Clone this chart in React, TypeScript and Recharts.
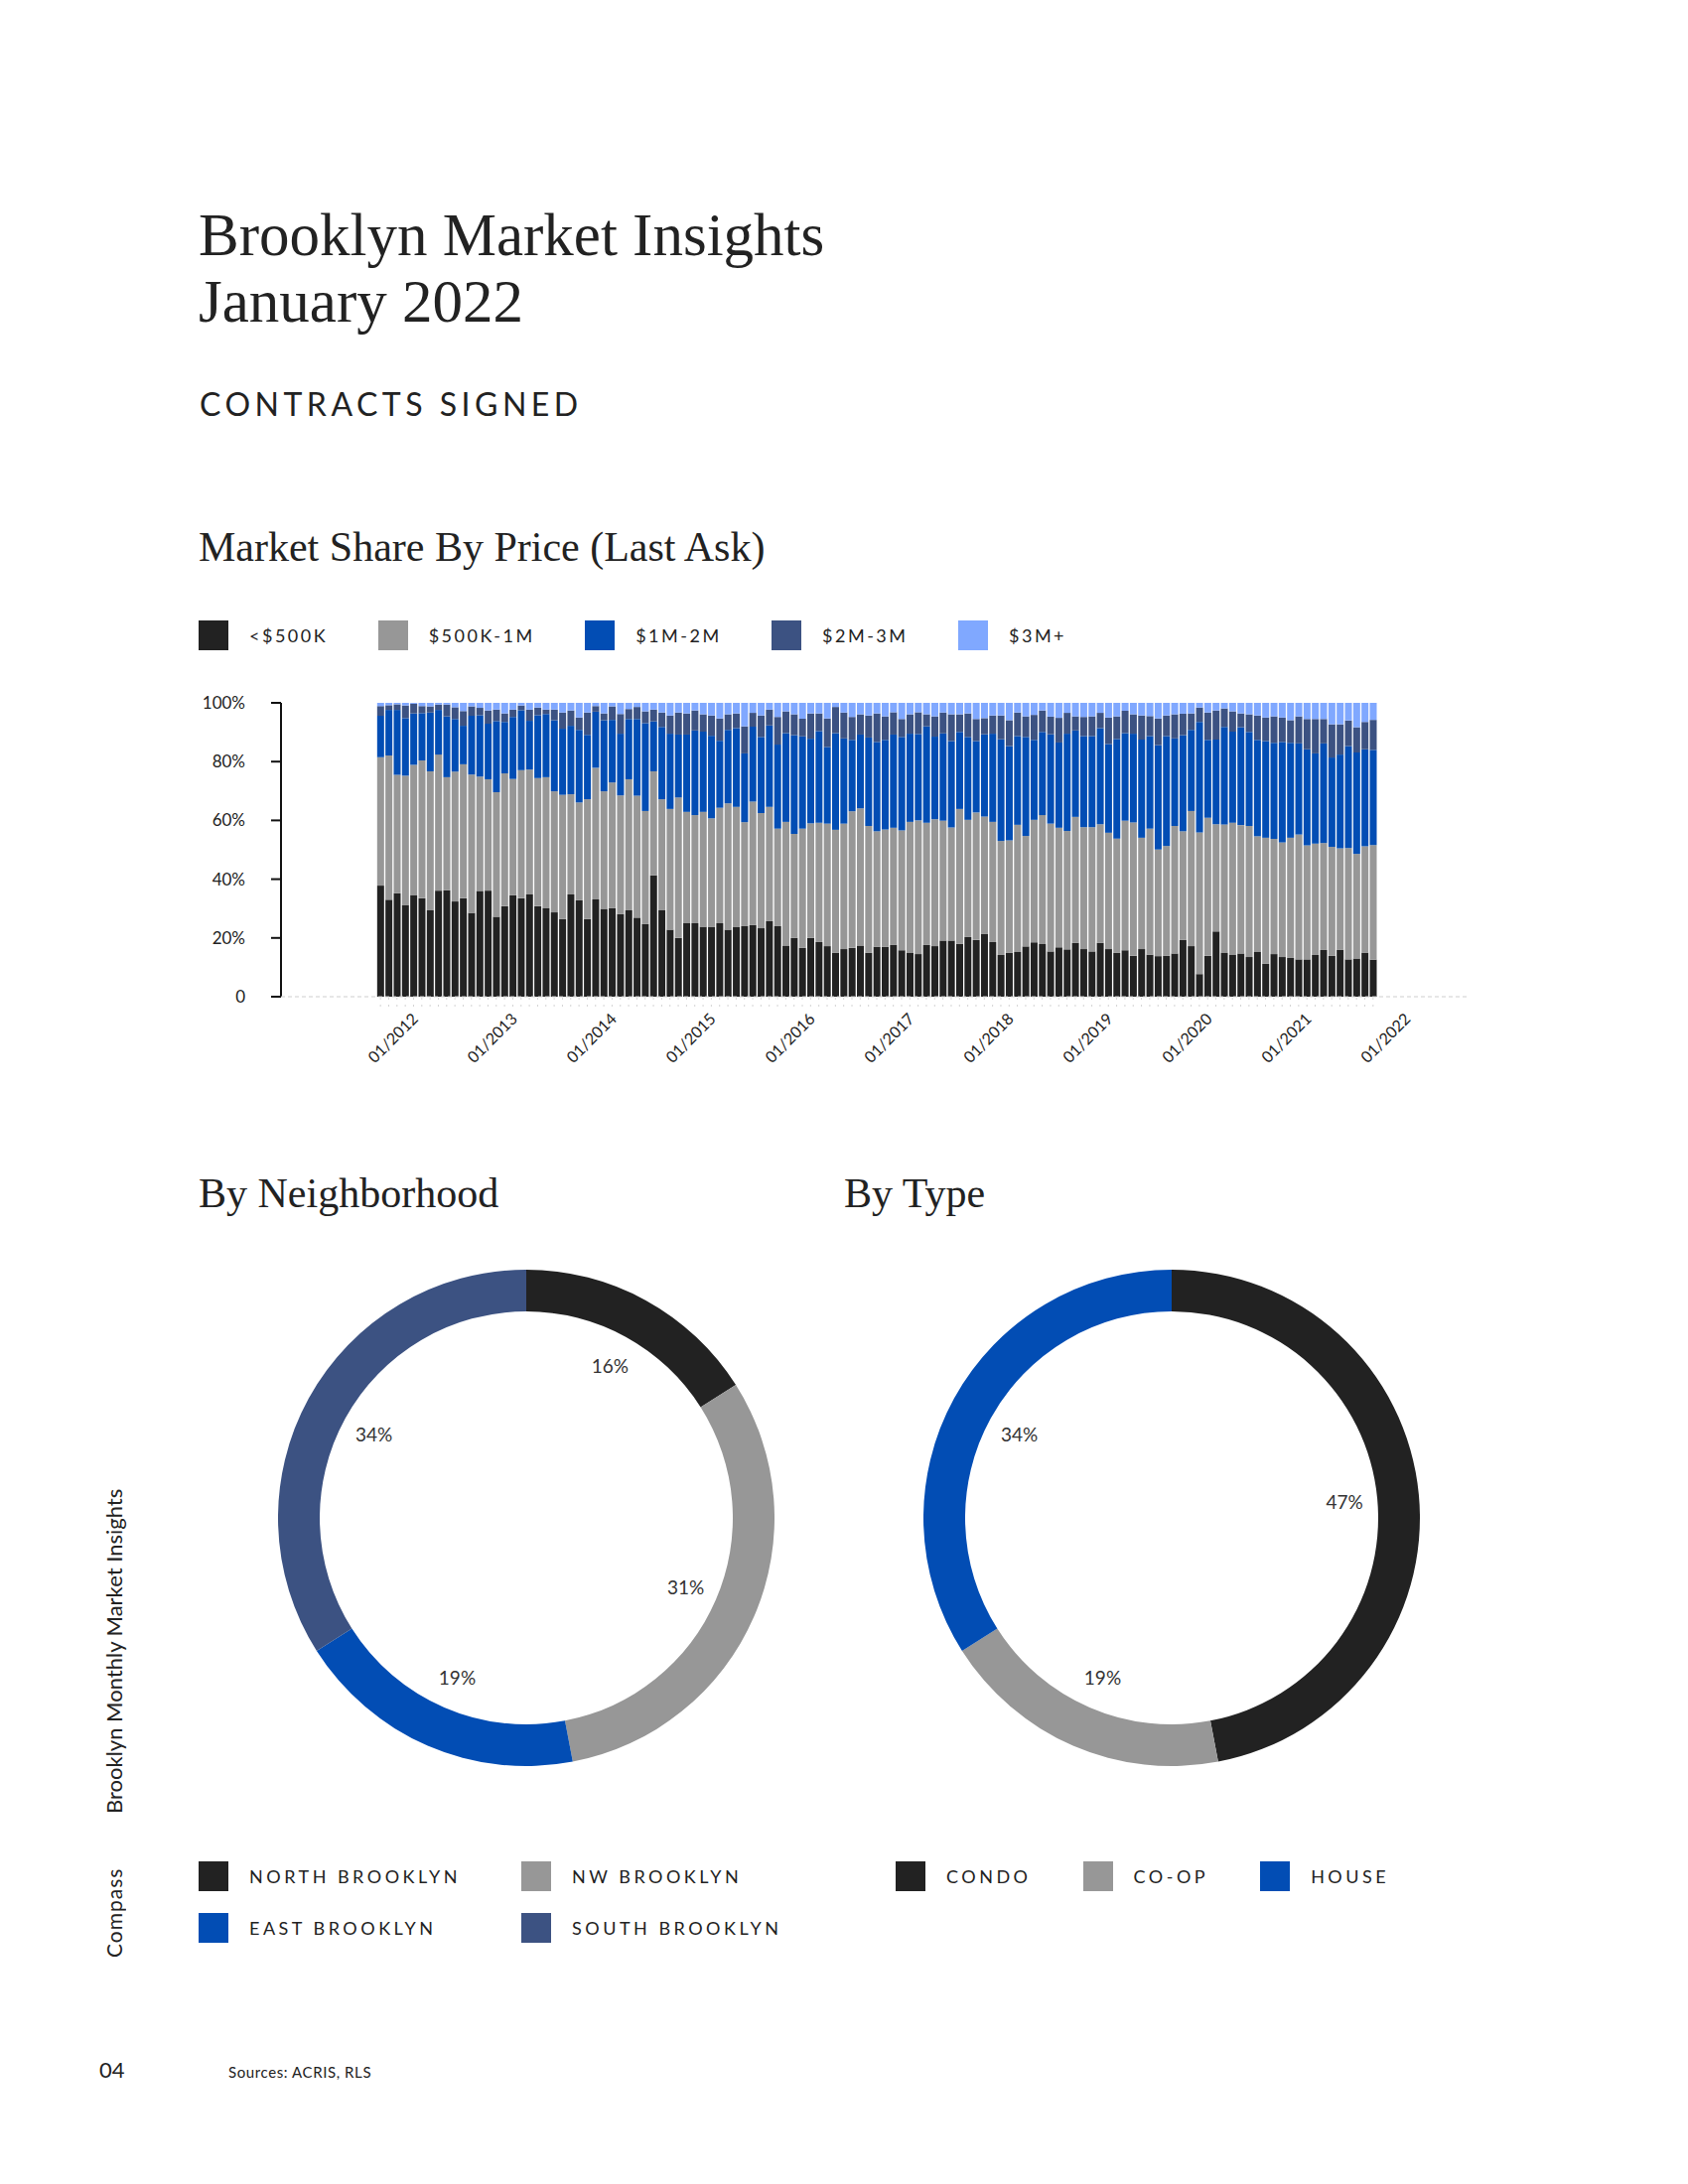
import { Bar, BarChart, Cell, Pie, PieChart, XAxis, YAxis } from "recharts";

// months 01/2012 .. 01/2022
const MONTHS: string[] = [];
for (let y = 2012; y <= 2022; y++) {
  for (let m = 1; m <= 12; m++) {
    if (y === 2022 && m > 1) break;
    MONTHS.push(`${String(m).padStart(2, "0")}/${y}`);
  }
}

// market share by last ask price, % of contracts signed each month
const UNDER_500K = [
  37.8, 33.0, 35.2, 31.1, 34.5, 33.5, 29.4, 36.1, 36.2, 32.4,
  33.5, 28.5, 36.0, 36.1, 27.2, 30.8, 34.5, 33.5, 34.8, 30.8,
  30.1, 28.7, 26.4, 34.8, 32.8, 26.4, 33.1, 29.9, 30.1, 28.1,
  29.4, 26.9, 24.7, 41.3, 29.4, 22.8, 20.0, 25.0, 25.0, 23.8,
  23.8, 25.0, 22.8, 23.8, 24.0, 24.4, 23.3, 25.7, 24.0, 17.4,
  20.0, 16.6, 20.0, 18.6, 17.2, 14.9, 16.2, 16.6, 17.4, 14.9,
  17.0, 17.0, 17.6, 15.8, 14.9, 14.5, 17.6, 17.2, 19.1, 19.1,
  18.0, 20.3, 19.3, 21.3, 18.6, 14.2, 14.9, 15.2, 17.1, 18.5,
  17.9, 15.4, 16.8, 16.1, 18.3, 16.2, 15.4, 18.3, 16.2, 14.9,
  15.8, 13.9, 16.2, 14.3, 13.8, 13.9, 14.7, 19.3, 17.2, 7.7,
  13.9, 22.2, 14.9, 14.2, 14.7, 13.5, 15.2, 11.2, 14.5, 13.5,
  13.2, 12.7, 12.7, 14.2, 15.9, 13.9, 16.0, 12.7, 13.0, 15.0, 12.6,
];
const FROM_500K_TO_1M = [
  43.7, 49.1, 40.3, 44.1, 44.4, 46.9, 47.3, 46.3, 38.5, 44.2,
  45.6, 47.1, 38.9, 37.9, 42.4, 45.2, 39.6, 43.6, 42.5, 43.6,
  44.6, 41.2, 42.3, 34.1, 33.3, 40.8, 44.8, 40.0, 42.8, 40.4,
  44.6, 41.5, 38.5, 35.4, 37.8, 41.1, 47.8, 37.9, 36.8, 39.1,
  36.9, 39.3, 43.0, 40.8, 35.4, 42.0, 39.2, 38.9, 33.2, 42.1,
  35.4, 40.6, 39.0, 40.6, 41.7, 41.9, 42.7, 46.5, 46.7, 43.2,
  39.3, 39.9, 39.9, 40.8, 44.6, 45.5, 41.6, 43.2, 40.8, 38.5,
  45.9, 39.9, 43.4, 40.0, 40.9, 38.8, 38.3, 43.3, 37.6, 41.7,
  43.9, 43.5, 40.7, 40.3, 42.9, 41.5, 42.3, 40.4, 39.6, 38.9,
  44.1, 45.4, 37.9, 42.9, 36.3, 37.4, 43.4, 37.0, 46.0, 48.2,
  47.0, 36.5, 43.7, 45.0, 43.7, 44.6, 39.4, 42.9, 39.2, 39.0,
  40.9, 42.5, 38.8, 37.9, 36.4, 37.1, 34.5, 37.9, 35.6, 36.2, 39.0,
];
const FROM_1M_TO_2M = [
  14.1, 15.5, 22.1, 19.6, 17.5, 16.1, 20.0, 15.2, 20.7, 17.9,
  13.1, 20.0, 20.9, 18.9, 24.2, 17.5, 21.1, 20.4, 16.6, 21.4,
  21.5, 24.2, 22.5, 23.3, 24.7, 21.9, 19.1, 24.2, 21.3, 21.0,
  20.5, 26.1, 29.9, 17.0, 24.6, 25.6, 21.4, 26.3, 28.8, 27.3,
  28.1, 22.8, 25.0, 26.8, 23.4, 25.5, 25.9, 27.7, 28.6, 30.2,
  33.6, 31.4, 28.8, 31.2, 26.1, 32.9, 29.0, 24.3, 25.1, 30.1,
  30.4, 30.5, 31.7, 31.8, 30.0, 29.4, 32.8, 28.1, 29.7, 29.4,
  26.2, 28.2, 24.3, 28.0, 30.0, 34.6, 32.1, 30.2, 33.7, 27.2,
  28.3, 30.4, 29.0, 33.1, 29.4, 31.0, 31.0, 32.7, 30.2, 33.9,
  29.8, 30.2, 33.4, 31.5, 35.5, 37.4, 29.8, 32.7, 27.6, 37.6,
  26.5, 28.8, 33.2, 31.0, 33.3, 32.0, 32.8, 32.9, 32.7, 34.2,
  32.3, 31.0, 32.7, 30.7, 33.9, 30.4, 31.9, 34.7, 34.5, 33.0, 32.4,
];
const FROM_2M_TO_3M = [
  3.3, 1.6, 1.9, 4.3, 3.3, 2.4, 2.1, 1.8, 4.0, 4.0,
  5.0, 3.2, 2.5, 4.5, 3.9, 2.9, 2.5, 1.6, 3.8, 2.6,
  1.5, 3.6, 5.5, 5.2, 4.2, 7.6, 1.9, 2.3, 4.6, 6.7,
  3.4, 4.1, 4.0, 4.0, 4.9, 6.2, 7.5, 7.2, 6.8, 5.9,
  6.9, 7.6, 5.3, 5.0, 9.2, 4.7, 7.3, 5.4, 9.4, 7.4,
  7.1, 6.0, 8.6, 6.0, 9.7, 8.9, 8.8, 7.8, 6.9, 7.5,
  9.7, 8.0, 7.6, 6.1, 6.6, 7.4, 4.1, 6.9, 7.1, 9.1,
  6.0, 8.0, 7.5, 5.5, 6.2, 8.1, 8.8, 8.0, 7.0, 8.5,
  7.3, 6.0, 8.4, 7.1, 4.8, 6.5, 6.7, 5.2, 9.0, 7.7,
  7.6, 6.6, 8.2, 6.8, 9.1, 7.0, 8.2, 7.3, 5.6, 4.9,
  9.3, 9.9, 6.3, 6.9, 4.7, 6.0, 8.3, 8.0, 9.0, 8.3,
  7.7, 9.2, 10.3, 11.7, 8.3, 11.3, 10.3, 8.7, 8.6, 9.3, 10.2,
];
const OVER_3M = [
  1.1, 0.8, 0.5, 0.9, 0.3, 1.1, 1.2, 0.6, 0.6, 1.5,
  2.8, 1.2, 1.7, 2.6, 2.3, 3.6, 2.3, 0.9, 2.3, 1.6,
  2.3, 2.3, 3.3, 2.6, 5.0, 3.3, 1.1, 3.6, 1.2, 3.8,
  2.1, 1.4, 2.9, 2.3, 3.3, 4.3, 3.3, 3.6, 2.6, 3.9,
  4.3, 5.3, 3.9, 3.6, 8.0, 3.4, 4.3, 2.3, 4.8, 2.9,
  3.9, 5.4, 3.6, 3.6, 5.3, 1.4, 3.3, 4.8, 3.9, 4.3,
  3.6, 4.6, 3.2, 5.5, 3.9, 3.2, 3.9, 4.6, 3.3, 3.9,
  3.9, 3.6, 5.5, 5.2, 4.3, 4.3, 5.9, 3.3, 4.6, 4.1,
  2.6, 4.7, 5.1, 3.4, 4.6, 4.8, 4.6, 3.4, 5.0, 4.6,
  2.7, 3.9, 4.3, 4.5, 5.3, 4.3, 3.9, 3.7, 3.6, 1.6,
  3.3, 2.6, 1.9, 2.9, 3.6, 3.9, 4.3, 5.0, 4.6, 5.0,
  5.9, 4.6, 5.5, 5.5, 5.5, 7.3, 7.3, 6.0, 8.3, 6.5, 5.8,
];

const PRICE_LABELS = ["<$500K", "$500K-1M", "$1M-2M", "$2M-3M", "$3M+"];
const PRICE_KEYS = ["lt500k", "k500to1m", "m1to2", "m2to3", "m3plus"];
const PRICE_SERIES = [UNDER_500K, FROM_500K_TO_1M, FROM_1M_TO_2M, FROM_2M_TO_3M, OVER_3M];
const Y_TICKS = [0, 20, 40, 60, 80, 100];

const HOOD_NAMES = ["NORTH BROOKLYN", "NW BROOKLYN", "EAST BROOKLYN", "SOUTH BROOKLYN"];
const HOOD_SHARE = [16, 31, 19, 34];
const TYPE_NAMES = ["CONDO", "CO-OP", "HOUSE"];
const TYPE_SHARE = [47, 19, 34];

const BLACK = "#222222";
const GRAY = "#979797";
const BLUE = "#024db4";
const NAVY = "#3c5282";
const LIGHT = "#80a8ff";
const PRICE_COLORS = [BLACK, GRAY, BLUE, NAVY, LIGHT];
const HOOD_COLORS = [BLACK, GRAY, BLUE, NAVY];
const TYPE_COLORS = [BLACK, GRAY, BLUE];

const SANS = "Lato, 'Open Sans', sans-serif";
const SERIF = "'Liberation Serif', 'DejaVu Serif', serif";

const shareData = MONTHS.map((month, i) => {
  const row: Record<string, string | number> = { month };
  PRICE_KEYS.forEach((k, s) => (row[k] = PRICE_SERIES[s][i]));
  return row;
});
const hoodData = HOOD_NAMES.map((name, i) => ({ name, value: HOOD_SHARE[i] }));
const typeData = TYPE_NAMES.map((name, i) => ({ name, value: TYPE_SHARE[i] }));

function MonthTick({ x, y, payload }: any) {
  const label = String(payload.value);
  if (!label.startsWith("01/")) return <g />;
  return (
    <text
      x={0}
      y={0}
      transform={`translate(${x + 12},${y + 29}) rotate(-45)`}
      textAnchor="middle"
      dominantBaseline="central"
      fill="#222"
      fontSize={16}
      fontFamily={SANS}
    >
      {label}
    </text>
  );
}

const RAD = Math.PI / 180;
function ringLabel({ cx, cy, midAngle, innerRadius, value }: any) {
  const r = innerRadius - 33;
  const x = cx + r * Math.cos(-midAngle * RAD);
  const y = cy + r * Math.sin(-midAngle * RAD);
  return (
    <text x={x} y={y} textAnchor="middle" dominantBaseline="central" fill="#333" fontSize={19} fontFamily={SANS}>
      {`${value}%`}
    </text>
  );
}

function Swatch({ color, label, spacing = 2.5 }: { color: string; label: string; spacing?: number }) {
  return (
    <div style={{ display: "flex", alignItems: "center", height: 30 }}>
      <div style={{ width: 30, height: 30, background: color }} />
      <span style={{ marginLeft: 21, fontSize: 18, letterSpacing: spacing, color: "#222", whiteSpace: "nowrap" }}>
        {label}
      </span>
    </div>
  );
}

function Ring({ data, colors, left }: { data: { name: string; value: number }[]; colors: string[]; left: number }) {
  return (
    <div style={{ position: "absolute", left, top: 1224 }}>
      <PieChart width={600} height={600}>
        <Pie
          data={data}
          dataKey="value"
          cx={300}
          cy={300}
          innerRadius={208}
          outerRadius={250}
          startAngle={90}
          endAngle={-270}
          stroke="none"
          labelLine={false}
          label={ringLabel}
          isAnimationActive={false}
        >
          {data.map((d, i) => (
            <Cell key={d.name} fill={colors[i]} />
          ))}
        </Pie>
      </PieChart>
    </div>
  );
}

export default function App() {
  return (
    <div
      style={{
        position: "absolute",
        left: 0,
        top: 0,
        width: 1700,
        height: 2200,
        background: "#fff",
        fontFamily: SANS,
        color: "#222",
        overflow: "hidden",
      }}
    >
      <div style={{ position: "absolute", left: 200, top: 203, fontFamily: SERIF, fontSize: 61, lineHeight: "67px" }}>
        Brooklyn Market Insights
        <br />
        January 2022
      </div>
      <div style={{ position: "absolute", left: 201, top: 391, fontSize: 32, lineHeight: "32px", letterSpacing: 4.5 }}>
        CONTRACTS SIGNED
      </div>
      <div style={{ position: "absolute", left: 200, top: 530, fontFamily: SERIF, fontSize: 42, lineHeight: "42px" }}>
        Market Share By Price (Last Ask)
      </div>

      <div style={{ position: "absolute", left: 200, top: 625, display: "flex", gap: 50.5 }}>
        {PRICE_LABELS.map((label, i) => (
          <Swatch key={label} color={PRICE_COLORS[i]} label={label} />
        ))}
      </div>

      <div style={{ position: "absolute", left: 180, top: 690 }}>
        <BarChart
          width={1320}
          height={420}
          data={shareData}
          margin={{ top: 18, right: 20, left: 0, bottom: 16 }}
          barCategoryGap="10%"
        >
          <YAxis
            width={103}
            domain={[0, 100]}
            ticks={Y_TICKS}
            tickFormatter={(v: number) => (v === 0 ? "0" : `${v}%`)}
            axisLine={{ stroke: "#111", strokeWidth: 2 }}
            tickLine={{ stroke: "#111", strokeWidth: 2 }}
            tickSize={10}
            tickMargin={26}
            tick={{ fill: "#222", fontSize: 17, fontFamily: SANS }}
          />
          <XAxis
            dataKey="month"
            height={90}
            interval={0}
            padding={{ left: 96, right: 93 }}
            axisLine={{ stroke: "#cfcfcf", strokeDasharray: "4 3" }}
            tickLine={{ stroke: "#d4d4d4", strokeDasharray: "2 5" }}
            tickSize={10}
            tick={<MonthTick />}
          />
          {PRICE_KEYS.map((k, i) => (
            <Bar key={k} dataKey={k} name={PRICE_LABELS[i]} stackId="share" fill={PRICE_COLORS[i]} isAnimationActive={false} />
          ))}
        </BarChart>
      </div>

      <div style={{ position: "absolute", left: 200, top: 1181, fontFamily: SERIF, fontSize: 42, lineHeight: "42px" }}>
        By Neighborhood
      </div>
      <div style={{ position: "absolute", left: 850, top: 1181, fontFamily: SERIF, fontSize: 42, lineHeight: "42px" }}>
        By Type
      </div>

      <Ring data={hoodData} colors={HOOD_COLORS} left={225} />
      <Ring data={typeData} colors={TYPE_COLORS} left={875} />

      <div
        style={{
          position: "absolute",
          left: 200,
          top: 1875,
          display: "grid",
          gridTemplateColumns: "325px 325px",
          rowGap: 22,
        }}
      >
        {HOOD_NAMES.map((name, i) => (
          <Swatch key={name} color={HOOD_COLORS[i]} label={name} spacing={3.5} />
        ))}
      </div>
      <div style={{ position: "absolute", left: 902, top: 1875, display: "flex", gap: 52 }}>
        {TYPE_NAMES.map((name, i) => (
          <Swatch key={name} color={TYPE_COLORS[i]} label={name} spacing={3.5} />
        ))}
      </div>

      <div
        style={{
          position: "absolute",
          left: 102,
          top: 1477,
          width: 26,
          height: 350,
          writingMode: "vertical-rl",
          transform: "rotate(180deg)",
          fontSize: 22,
          lineHeight: "26px",
          whiteSpace: "nowrap",
        }}
      >
        Brooklyn Monthly Market Insights
      </div>
      <div
        style={{
          position: "absolute",
          left: 102,
          top: 1872,
          width: 26,
          height: 100,
          writingMode: "vertical-rl",
          transform: "rotate(180deg)",
          fontSize: 21,
          lineHeight: "26px",
          letterSpacing: 1,
          whiteSpace: "nowrap",
        }}
      >
        Compass
      </div>

      <div style={{ position: "absolute", left: 100, top: 2073, fontSize: 22, lineHeight: "24px" }}>04</div>
      <div style={{ position: "absolute", left: 230, top: 2078, fontSize: 15, lineHeight: "18px", letterSpacing: 0.6 }}>
        Sources: ACRIS, RLS
      </div>
    </div>
  );
}
